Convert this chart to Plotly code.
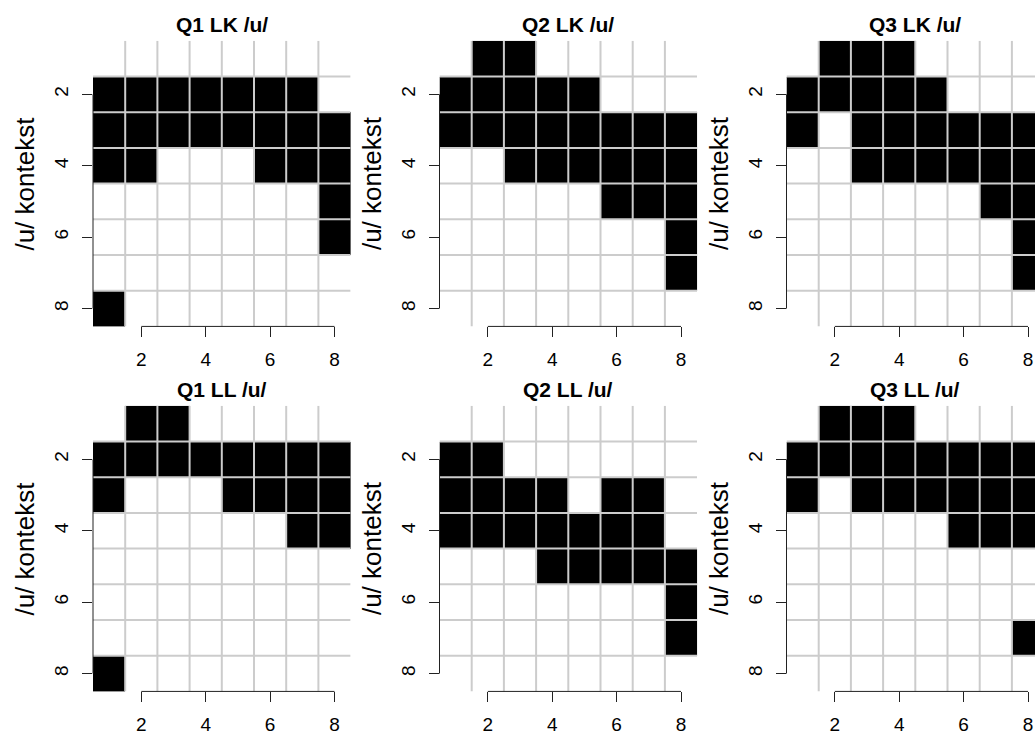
import plotly.graph_objects as go

# Category positions (rows = contexts, columns = items) and axis ticks
ROWS = [1, 2, 3, 4, 5, 6, 7, 8]
COLS = [1, 2, 3, 4, 5, 6, 7, 8]
TICKS = [2, 4, 6, 8]

# Binary matrices, one per panel (1 = filled cell), rows listed top to bottom
q1_lk = [
    [0, 0, 0, 0, 0, 0, 0, 0],
    [1, 1, 1, 1, 1, 1, 1, 0],
    [1, 1, 1, 1, 1, 1, 1, 1],
    [1, 1, 0, 0, 0, 1, 1, 1],
    [0, 0, 0, 0, 0, 0, 0, 1],
    [0, 0, 0, 0, 0, 0, 0, 1],
    [0, 0, 0, 0, 0, 0, 0, 0],
    [1, 0, 0, 0, 0, 0, 0, 0],
]
q2_lk = [
    [0, 1, 1, 0, 0, 0, 0, 0],
    [1, 1, 1, 1, 1, 0, 0, 0],
    [1, 1, 1, 1, 1, 1, 1, 1],
    [0, 0, 1, 1, 1, 1, 1, 1],
    [0, 0, 0, 0, 0, 1, 1, 1],
    [0, 0, 0, 0, 0, 0, 0, 1],
    [0, 0, 0, 0, 0, 0, 0, 1],
    [0, 0, 0, 0, 0, 0, 0, 0],
]
q3_lk = [
    [0, 1, 1, 1, 0, 0, 0, 0],
    [1, 1, 1, 1, 1, 0, 0, 0],
    [1, 0, 1, 1, 1, 1, 1, 1],
    [0, 0, 1, 1, 1, 1, 1, 1],
    [0, 0, 0, 0, 0, 0, 1, 1],
    [0, 0, 0, 0, 0, 0, 0, 1],
    [0, 0, 0, 0, 0, 0, 0, 1],
    [0, 0, 0, 0, 0, 0, 0, 0],
]
q1_ll = [
    [0, 1, 1, 0, 0, 0, 0, 0],
    [1, 1, 1, 1, 1, 1, 1, 1],
    [1, 0, 0, 0, 1, 1, 1, 1],
    [0, 0, 0, 0, 0, 0, 1, 1],
    [0, 0, 0, 0, 0, 0, 0, 0],
    [0, 0, 0, 0, 0, 0, 0, 0],
    [0, 0, 0, 0, 0, 0, 0, 0],
    [1, 0, 0, 0, 0, 0, 0, 0],
]
q2_ll = [
    [0, 0, 0, 0, 0, 0, 0, 0],
    [1, 1, 0, 0, 0, 0, 0, 0],
    [1, 1, 1, 1, 0, 1, 1, 0],
    [1, 1, 1, 1, 1, 1, 1, 0],
    [0, 0, 0, 1, 1, 1, 1, 1],
    [0, 0, 0, 0, 0, 0, 0, 1],
    [0, 0, 0, 0, 0, 0, 0, 1],
    [0, 0, 0, 0, 0, 0, 0, 0],
]
q3_ll = [
    [0, 1, 1, 1, 0, 0, 0, 0],
    [1, 1, 1, 1, 1, 1, 1, 1],
    [1, 0, 1, 1, 1, 1, 1, 1],
    [0, 0, 0, 0, 0, 1, 1, 1],
    [0, 0, 0, 0, 0, 0, 0, 0],
    [0, 0, 0, 0, 0, 0, 0, 0],
    [0, 0, 0, 0, 0, 0, 0, 1],
    [0, 0, 0, 0, 0, 0, 0, 0],
]

titles = ["Q1 LK /u/", "Q2 LK /u/", "Q3 LK /u/",
          "Q1 LL /u/", "Q2 LL /u/", "Q3 LL /u/"]
matrices = [q1_lk, q2_lk, q3_lk, q1_ll, q2_ll, q3_ll]
y_label = "/u/ kontekst"

# Page geometry (pixels)
W, H = 1035, 735
col_left = [93.0, 439.5, 786.5]
row_top = [41.0, 408.0]
cell_w = 32.2
cell_h = 35.9

FONT = "Liberation Sans, Arial, Helvetica, sans-serif"
GRID = "#cccccc"
AXIS = "#222222"

fig = go.Figure()
layout = dict(
    width=W, height=H,
    margin=dict(l=0, r=0, t=0, b=0),
    paper_bgcolor="white", plot_bgcolor="white",
    showlegend=False,
    font=dict(family=FONT, color="black"),
)
shapes, annotations = [], []

n_c = len(COLS)
n_r = len(ROWS)
for i, (title, z) in enumerate(zip(titles, matrices)):
    r, c = divmod(i, 3)
    k = "" if i == 0 else str(i + 1)
    xa, ya = "x" + k, "y" + k

    left = col_left[c]
    right_full = left + n_c * cell_w
    right = min(right_full, W)
    top = row_top[r]
    bottom = top + n_r * cell_h

    x_lo = COLS[0] - 0.5
    x_hi = x_lo + (right - left) / cell_w
    y_lo = ROWS[0] - 0.5
    y_hi = ROWS[-1] + 0.5

    fig.add_trace(go.Heatmap(
        z=z, x=COLS, y=ROWS, xaxis=xa, yaxis=ya,
        zmin=0, zmax=1,
        colorscale=[[0, "white"], [1, "black"]],
        showscale=False, hoverinfo="skip",
    ))

    axis_common = dict(
        tickmode="array", tickvals=TICKS, ticktext=[str(t) for t in TICKS],
        ticks="outside", ticklen=10, tickwidth=1, tickcolor=AXIS,
        showline=False, showgrid=False, zeroline=False,
        tickfont=dict(family=FONT, size=19, color="black"),
        fixedrange=True,
    )
    layout["xaxis" + k] = dict(
        axis_common, domain=[left / W, right / W], range=[x_lo, x_hi],
        anchor=ya, ticklabelstandoff=6,
    )
    layout["yaxis" + k] = dict(
        axis_common, domain=[1 - bottom / H, 1 - top / H], range=[y_hi, y_lo],
        anchor=xa, tickangle=-90, ticklabelstandoff=6,
    )

    # cell grid drawn over the image, at the boundaries between categories
    for a, b in zip(COLS[:-1], COLS[1:]):
        xb = (a + b) / 2
        shapes.append(dict(type="line", xref=xa, yref=ya, x0=xb, x1=xb,
                           y0=y_lo, y1=y_hi, layer="above",
                           line=dict(color=GRID, width=2)))
    for a, b in zip(ROWS[:-1], ROWS[1:]):
        yb = (a + b) / 2
        shapes.append(dict(type="line", xref=xa, yref=ya, x0=COLS[0] - 0.5,
                           x1=COLS[-1] + 0.5, y0=yb, y1=yb, layer="above",
                           line=dict(color=GRID, width=2)))

    # axis lines spanning first to last tick only
    shapes.append(dict(type="line", xref=xa, yref=ya + " domain",
                       x0=TICKS[0], x1=TICKS[-1], y0=0, y1=0, layer="above",
                       line=dict(color=AXIS, width=1)))
    shapes.append(dict(type="line", xref=xa + " domain", yref=ya,
                       x0=0, x1=0, y0=TICKS[0], y1=TICKS[-1], layer="above",
                       line=dict(color=AXIS, width=1)))

    annotations.append(dict(
        text=title, showarrow=False,
        xref=xa, x=(COLS[0] + COLS[-1]) / 2,
        yref=ya + " domain", y=1, yanchor="middle", yshift=16,
        font=dict(family=FONT, size=21, color="black", weight="bold"),
    ))
    annotations.append(dict(
        text=y_label, showarrow=False, textangle=-90,
        xref=xa + " domain", x=0, xanchor="center", xshift=-68,
        yref=ya + " domain", y=0.5, yanchor="middle",
        font=dict(family=FONT, size=26, color="black"),
    ))

layout["shapes"] = shapes
layout["annotations"] = annotations
fig.update_layout(**layout)
fig.write_html("out.html")
